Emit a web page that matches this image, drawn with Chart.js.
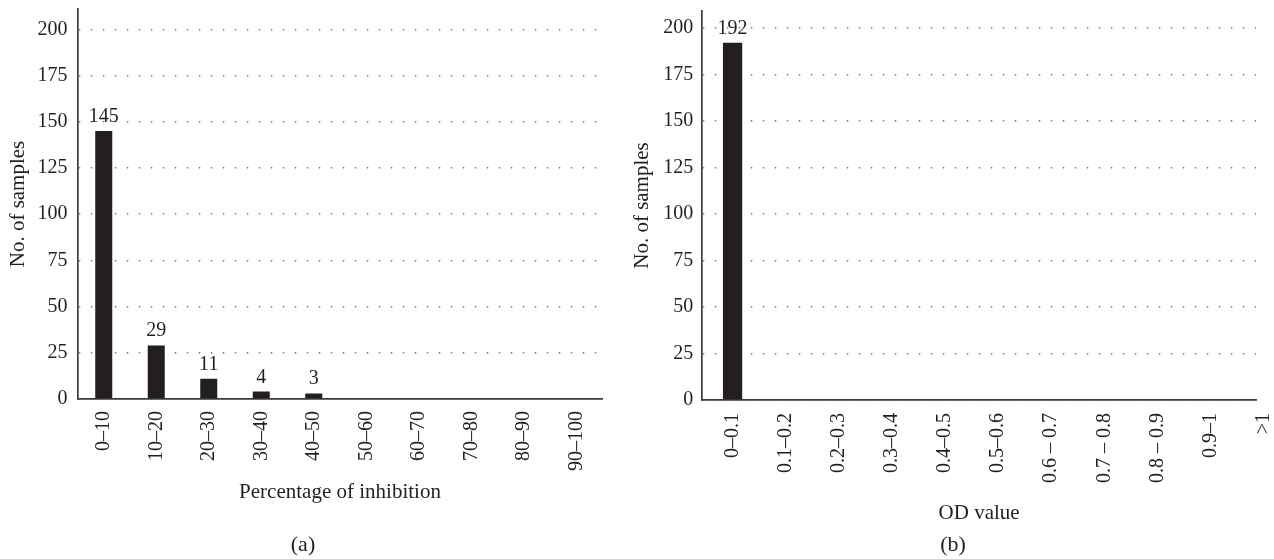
<!DOCTYPE html>
<html>
<head>
<meta charset="utf-8">
<script src="https://cdn.jsdelivr.net/npm/chart.js@4/dist/chart.umd.min.js"></script>
<style>
  html, body { margin: 0; padding: 0; background: #fff; overflow: hidden; }
  #wrap { position: relative; width: 1274px; height: 559px; }
  #panelA { position: absolute; left: 0; top: 0; }
  #panelB { position: absolute; left: 620px; top: 0; }
  .cap {
    position: absolute; top: 533px; line-height: 1;
    font-family: "Liberation Serif", "Times New Roman", serif;
    font-size: 22px; color: #231f20; transform: translateX(-50%);
  }
</style>
</head>
<body>
<div id="wrap">
  <canvas id="panelA" width="620" height="559"></canvas>
  <canvas id="panelB" width="654" height="559"></canvas>
  <div class="cap" style="left:303px">(a)</div>
  <div class="cap" style="left:953px">(b)</div>
</div>
<script>
// Panel (a): distribution of percentage of inhibition
const inhibitionLabels = ['0–10', '10–20', '20–30', '30–40', '40–50', '50–60', '60–70', '70–80', '80–90', '90–100'];
const inhibitionCounts = [145, 29, 11, 4, 3, 0, 0, 0, 0, 0];

// Panel (b): distribution of OD values
const odLabels = ['0–0.1', '0.1–0.2', '0.2–0.3', '0.3–0.4', '0.4–0.5', '0.5–0.6', '0.6 – 0.7', '0.7 – 0.8', '0.8 – 0.9', '0.9–1', '>1'];
const odCounts = [192, 0, 0, 0, 0, 0, 0, 0, 0, 0, 0];

// Shared count axis ticks
const countTicks = [0, 25, 50, 75, 100, 125, 150, 175, 200];

const INK = '#231f20';
const AXIS = '#3c3c3c';
const DOTS = '#7a7a7a';
const SERIF = '"Liberation Serif", "Times New Roman", serif';
const tickFont = { family: SERIF, size: 20 };
const titleFont = { family: SERIF, size: 21 };

Chart.defaults.font.family = SERIF;
Chart.defaults.color = INK;

// Writes each bar's count just above it
const valueLabels = {
  id: 'valueLabels',
  afterDatasetsDraw(chart) {
    const { ctx } = chart;
    const meta = chart.getDatasetMeta(0);
    ctx.save();
    ctx.font = '20px ' + SERIF;
    ctx.fillStyle = INK;
    ctx.textAlign = 'center';
    ctx.textBaseline = 'alphabetic';
    meta.data.forEach((bar, i) => {
      const raw = meta._parsed[i];
      const v = raw ? raw.y : 0;
      if (!v) return;
      ctx.fillText(String(v), bar.x, bar.y - 9);
    });
    ctx.restore();
  }
};

function countAxis(max, width, titlePadTop, tickPad) {
  return {
    min: 0,
    max: max,
    afterBuildTicks: (s) => { s.ticks = countTicks.map(v => ({ value: v })); },
    afterFit: (s) => { s.width = width; s.paddingTop = 0; s.paddingBottom = 0; },
    ticks: { padding: tickPad, font: tickFont, color: INK },
    grid: { color: DOTS, lineWidth: 1.5, drawTicks: false },
    border: { display: true, color: AXIS, width: 1.7, dash: [1.5, 10.5], dashOffset: 11.9 },
    title: { display: true, text: 'No. of samples', font: titleFont, color: INK, padding: { top: titlePadTop, bottom: 0 } }
  };
}

const common = {
  responsive: false,
  animation: false,
  events: [],
  plugins: { legend: { display: false }, tooltip: { enabled: false } }
};

new Chart(document.getElementById('panelA'), {
  type: 'bar',
  data: {
    labels: inhibitionLabels,
    datasets: [{
      data: inhibitionCounts,
      backgroundColor: INK,
      borderWidth: 0,
      barPercentage: 0.324,
      categoryPercentage: 1
    }]
  },
  options: Object.assign({}, common, {
    layout: { padding: { left: 0, top: 9, right: 17.5, bottom: 0 } },
    scales: {
      x: {
        type: 'category',
        offset: true,
        grid: { display: false, drawTicks: false },
        border: { display: true, color: AXIS, width: 1.7 },
        ticks: { autoSkip: false, minRotation: 90, maxRotation: 90, padding: 12, font: tickFont, color: INK },
        title: { display: true, text: 'Percentage of inhibition', font: titleFont, color: INK, padding: { top: 4, bottom: 54 } },
        afterFit: (s) => { s.height = 160; s.paddingLeft = 0; s.paddingRight = 0; }
      },
      y: countAxis(211, 77.5, 5.4, 10)
    }
  }),
  plugins: [valueLabels]
});

new Chart(document.getElementById('panelB'), {
  type: 'bar',
  data: {
    datasets: [{
      data: odCounts.map((y, i) => ({ x: i, y: y })),
      backgroundColor: INK,
      borderWidth: 0,
      barPercentage: 0.363,
      categoryPercentage: 1
    }]
  },
  options: Object.assign({}, common, {
    layout: { padding: { left: 0, top: 11, right: 18, bottom: 0 } },
    scales: {
      x: {
        type: 'linear',
        offset: false,
        min: -0.57,
        max: 9.857,
        afterBuildTicks: (s) => { s.ticks = odLabels.map((_, i) => ({ value: i })); },
        grid: { display: false, drawTicks: false },
        border: { display: true, color: AXIS, width: 1.7 },
        ticks: {
          autoSkip: false, minRotation: 90, maxRotation: 90, padding: 13,
          font: tickFont, color: INK,
          callback: (v) => odLabels[v]
        },
        title: { display: true, text: 'OD value', font: titleFont, color: INK, padding: { top: 4, bottom: 33 } },
        afterFit: (s) => { s.height = 159; s.paddingLeft = 0; s.paddingRight = 0; }
      },
      y: countAxis(209, 82.3, 9.4, 9)
    }
  }),
  plugins: [valueLabels]
});
</script>
</body>
</html>
